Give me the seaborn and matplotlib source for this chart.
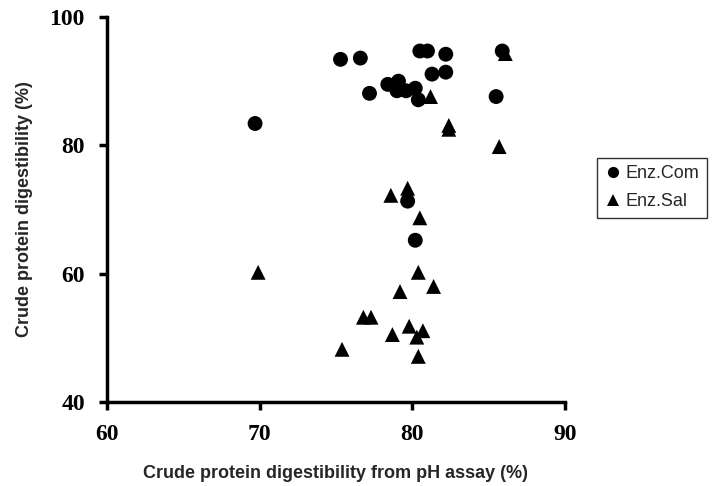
import matplotlib
matplotlib.use("Agg")
import matplotlib.pyplot as plt
import seaborn as sns
import pandas as pd

com_x = [75.3, 76.6, 80.5, 81.0, 82.2, 85.9, 81.3, 82.2, 78.4, 79.1, 77.2, 79.0, 79.6, 80.2, 80.4, 85.5, 69.7, 79.7, 80.2]
com_y = [93.4, 93.6, 94.7, 94.7, 94.2, 94.7, 91.1, 91.4, 89.5, 90.0, 88.1, 88.5, 88.5, 88.9, 87.1, 87.6, 83.4, 71.3, 65.2]
sal_x = [81.2, 82.4, 82.4, 85.7, 86.1, 78.6, 79.7, 80.5, 80.4, 81.4, 79.2, 76.8, 77.3, 79.8, 80.7, 80.3, 78.7, 75.4, 80.4, 69.9]
sal_y = [87.6, 83.1, 82.5, 79.8, 94.3, 72.2, 73.3, 68.7, 60.2, 58.0, 57.2, 53.2, 53.2, 51.8, 51.1, 50.1, 50.5, 48.2, 47.1, 60.2]
groups = ["Enz.Com", "Enz.Sal"]

df = pd.DataFrame({
    "x": com_x + sal_x,
    "y": com_y + sal_y,
    "g": [groups[0]] * len(com_x) + [groups[1]] * len(sal_x),
})

sns.set_style("ticks")
fig = plt.figure(figsize=(7.14, 4.86), dpi=100)
ax = fig.add_axes([0.150, 0.173, 0.641, 0.792])
sns.scatterplot(data=df, x="x", y="y", hue="g", style="g",
                markers={"Enz.Com": "o", "Enz.Sal": "^"},
                palette={"Enz.Com": "black", "Enz.Sal": "black"},
                s=115, edgecolor="black", linewidth=0, ax=ax)

ax.set_xlim(60, 90)
ax.set_ylim(40, 100)
ax.set_xticks([60, 70, 80, 90])
ax.set_yticks([40, 60, 80, 100])
for s in ["top", "right"]:
    ax.spines[s].set_visible(False)
for s in ["left", "bottom"]:
    ax.spines[s].set_linewidth(2.5)
    ax.spines[s].set_color("black")
ax.tick_params(direction="out", length=6, width=2.5, colors="black", pad=10)
for lab in ax.get_xticklabels() + ax.get_yticklabels():
    lab.set_fontfamily("Liberation Serif")
    lab.set_fontweight("bold")
    lab.set_fontsize(17)
ax.set_xlabel("Crude protein digestibility from pH assay (%)", fontfamily="Liberation Sans",
              fontweight="bold", fontsize=13, labelpad=14)
ax.set_ylabel("Crude protein digestibility (%)", fontfamily="Liberation Sans",
              fontweight="bold", fontsize=13, labelpad=12)

leg = ax.legend(loc="center left", bbox_to_anchor=(1.07, 0.556), frameon=True, fancybox=False,
                prop={"family": "Liberation Sans", "size": 13}, handletextpad=0.2,
                borderpad=0.4, handlelength=1.0, markerscale=0.75, labelspacing=0.6,
                borderaxespad=0)
leg.get_frame().set_edgecolor("black")
leg.get_frame().set_linewidth(1.0)

fig.savefig("out.png", dpi=100)
